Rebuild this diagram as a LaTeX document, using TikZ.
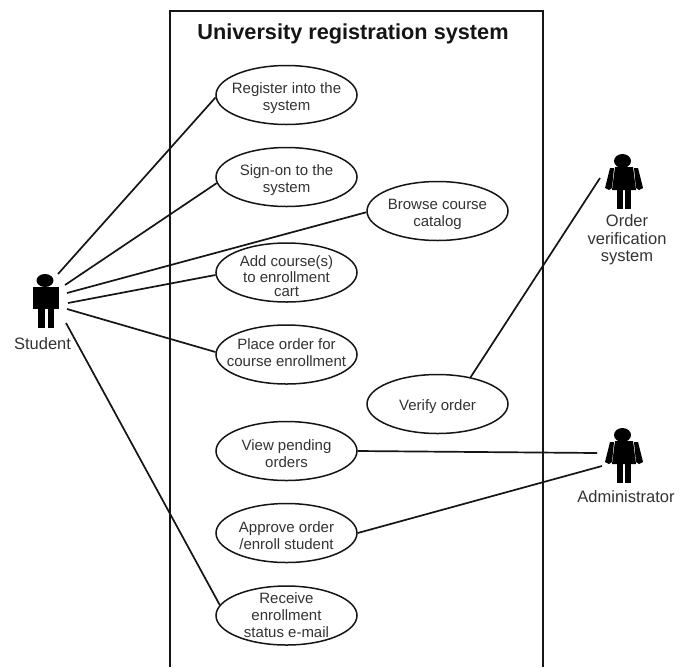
\documentclass[tikz,border=0pt]{standalone}
\usepackage{fontspec}
\setmainfont{Liberation Sans}
\usetikzlibrary{shapes.geometric}
\definecolor{ink}{HTML}{151515}
\definecolor{txt}{HTML}{333333}
\newcommand{\uct}[2]{\raisebox{\dimexpr-5.75pt-#1\relax}[0pt][0pt]{\begin{tabular}{@{}c@{}}#2\end{tabular}}}
\tikzset{
  x=1pt,y=-1pt,
  usecase/.style={ellipse,draw=ink,line width=1.5pt,minimum width=141pt,minimum height=59pt,inner xsep=-30pt,inner ysep=0pt,align=center,font=\fontsize{15}{17}\selectfont,text=txt},
  assoc/.style={draw=ink,line width=1.7pt},
  actorlabel/.style={align=center,font=\fontsize{16.5}{17.3}\selectfont,text=txt,inner sep=0pt},
}
\newcommand{\femalefig}[2]{%
  \begin{scope}[shift={(#1,#2)}]
    \fill[black] (-1.5,0) ellipse (8.5 and 7);
    \fill[black] (-9,6) -- (9,6) -- (12,29) -- (-12,29) -- cycle;
    \fill[black] (-14,7) -- (-10,7) -- (-12,27) -- (-15,29) -- (-19,27) -- cycle;
    \fill[black] (14,7) -- (10,7) -- (12,27) -- (15,29) -- (19,27) -- cycle;
    \fill[black] (-7,27) rectangle (-1,48);
    \fill[black] (1,27) rectangle (7,48);
  \end{scope}}
\begin{document}
\begin{tikzpicture}
\useasboundingbox (0,0) rectangle (684,667);
\fill[white] (0,0) rectangle (684,667);
\draw[ink,line width=2pt] (169.5,667) -- (169.5,11) -- (543,11) -- (543,667);
\node[font=\bfseries\fontsize{21.7}{24}\selectfont,text=ink,inner sep=0pt] (title) at (353,33.5) {University registration system};

\node[usecase] (reg) at (286.5,95) {\uct{1.5pt}{Register into the\\system}};
\node[usecase] (sign) at (286.5,177) {\uct{1.5pt}{Sign-on to the\\system}};
\node[usecase] (browse) at (437.5,211) {\uct{1.5pt}{Browse course\\catalog}};
\node[usecase,font=\fontsize{15}{14.7}\selectfont] (add) at (286.5,272.5) {\uct{4pt}{Add course(s)\\to enrollment\\cart}};
\node[usecase] (place) at (286.5,354.5) {\uct{-2pt}{Place order for\\course enrollment}};
\node[usecase] (verify) at (437.5,404) {\uct{1pt}{Verify order}};
\node[usecase] (view) at (286.5,451) {\uct{2.5pt}{View pending\\orders}};
\node[usecase] (approve) at (286.5,533) {\uct{2.5pt}{Approve order\\/enroll student}};
\node[usecase] (recv) at (286.5,615.5) {\uct{-0.5pt}{Receive\\enrollment\\status e-mail}};

% Student
\fill[black] (45,280.5) ellipse (8.5 and 6.5);
\fill[black] (33,287) rectangle (59,309);
\fill[black] (38,305) rectangle (44.5,328);
\fill[black] (47.5,305) rectangle (53.5,328);
\node[actorlabel] (student) at (42.5,344) {Student};

% Order verification system
\femalefig{624}{161}
\node[actorlabel] (ovs) at (627,240) {Order\\verification\\system};

% Administrator
\femalefig{624}{435}
\node[actorlabel] (admin) at (626,497) {Administrator};

\coordinate (s1) at (58,274);
\coordinate (s2) at (65,285);
\coordinate (s3) at (67,293);
\coordinate (s4) at (68,303);
\coordinate (s5) at (67,309);
\coordinate (s6) at (66,323);
\coordinate (o1) at (600,178);
\coordinate (a1) at (597,453);
\coordinate (a2) at (602,466);

\draw[assoc] (s1) -- (reg.182.5);
\draw[assoc] (s2) -- (sign.185);
\draw[assoc] (s3) -- (browse.181);
\draw[assoc] (s4) -- (add.182);
\draw[assoc] (s5) -- (place.178);
\draw[assoc] (s6) -- (recv.171);
\draw[assoc] (verify.39) -- (o1);
\draw[assoc] (view.east) -- (a1);
\draw[assoc] (approve.east) -- (a2);
\end{tikzpicture}
\end{document}
